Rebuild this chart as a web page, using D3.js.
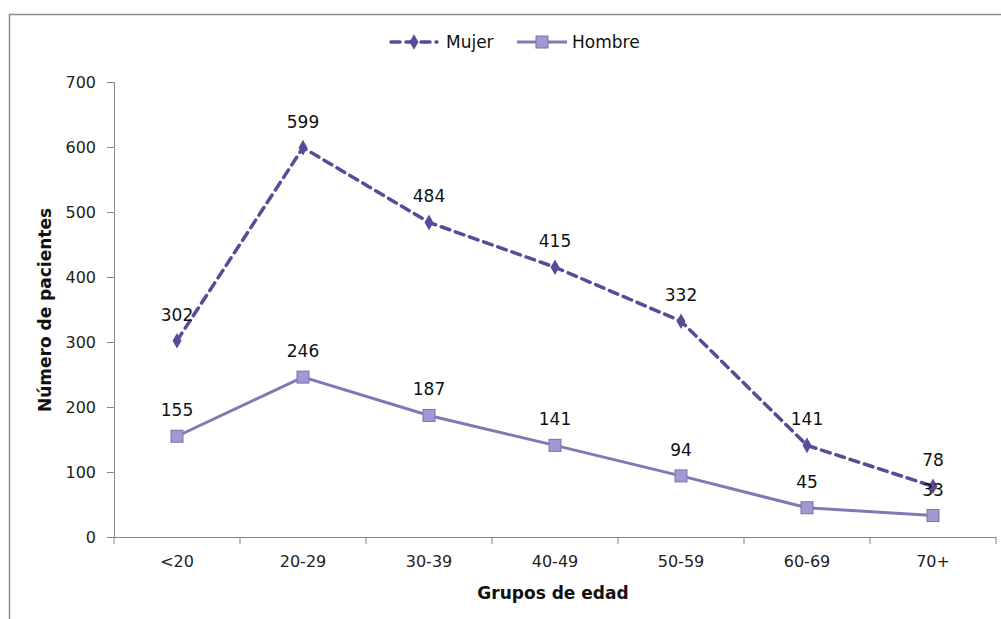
<!DOCTYPE html>
<html>
<head>
<meta charset="utf-8">
<script src="https://cdn.jsdelivr.net/npm/d3@7"></script>
<style>
  body { margin: 0; background: #fff; }
  text { font-family: "DejaVu Sans", Verdana, sans-serif; }
</style>
</head>
<body>
<div id="chart"></div>
<script>
// Data
const grupos = ["<20", "20-29", "30-39", "40-49", "50-59", "60-69", "70+"];
const mujer = [302, 599, 484, 415, 332, 141, 78];
const hombre = [155, 246, 187, 141, 94, 45, 33];
const yTicks = [0, 100, 200, 300, 400, 500, 600, 700];

const W = 1001, H = 619;
const margin = { top: 82, right: 5, bottom: 82, left: 114 };
const width = 996 - margin.left;
const height = 537 - margin.top;

const svg = d3.select("#chart").append("svg")
    .attr("width", W)
    .attr("height", H);

// outer frame
svg.append("rect")
    .attr("x", 9.5).attr("y", 14.5)
    .attr("width", 1000).attr("height", 620)
    .attr("fill", "none")
    .attr("stroke", "#8c8c8c")
    .attr("stroke-width", 1.5);

const g = svg.append("g")
    .attr("transform", `translate(${margin.left},${margin.top})`);

const x = d3.scaleBand()
    .domain(grupos)
    .range([0, width]);

const y = d3.scaleLinear()
    .domain([0, 700])
    .range([height, 0]);

const cx = d => x(d) + x.bandwidth() / 2;

// Y axis
const yAxis = g.append("g")
    .call(d3.axisLeft(y).tickValues(yTicks).tickSize(7).tickPadding(6));
yAxis.select(".domain").attr("stroke", "#868686");
yAxis.selectAll(".tick line").attr("stroke", "#868686");
yAxis.selectAll(".tick text")
    .attr("fill", "#222")
    .style("font-size", "16px")
    .attr("dx", "-5");

// X axis
const xAxis = g.append("g")
    .attr("transform", `translate(0,${height})`)
    .call(d3.axisBottom(x).tickSize(0).tickPadding(19));
xAxis.select(".domain").attr("stroke", "#868686");
xAxis.selectAll(".tick text")
    .attr("fill", "#222")
    .style("font-size", "16px");
// boundary ticks between groups
xAxis.selectAll(".sep")
    .data(d3.range(grupos.length + 1))
    .enter()
    .append("line")
    .attr("x1", i => i * x.bandwidth())
    .attr("x2", i => i * x.bandwidth())
    .attr("y1", 0)
    .attr("y2", 7)
    .attr("stroke", "#868686");

// Lines
const line = d3.line()
    .x((d, i) => cx(grupos[i]))
    .y(d => y(d));

g.append("path")
    .datum(hombre)
    .attr("fill", "none")
    .attr("stroke", "#8576b6")
    .attr("stroke-width", 3)
    .attr("d", line);

g.append("path")
    .datum(mujer)
    .attr("fill", "none")
    .attr("stroke", "#5a4b98")
    .attr("stroke-width", 3.5)
    .attr("stroke-dasharray", "9,6")
    .attr("stroke-linecap", "round")
    .attr("d", line);

// Markers
g.selectAll(".sq")
    .data(hombre)
    .enter()
    .append("rect")
    .attr("x", (d, i) => cx(grupos[i]) - 6)
    .attr("y", d => y(d) - 6)
    .attr("width", 12)
    .attr("height", 12)
    .attr("fill", "#a498d4")
    .attr("stroke", "#7e70b0")
    .attr("stroke-width", 1);

const diamond = d3.symbol().type(d3.symbolDiamond).size(70);
g.selectAll(".dm")
    .data(mujer)
    .enter()
    .append("path")
    .attr("d", diamond)
    .attr("transform", (d, i) => `translate(${cx(grupos[i])},${y(d)})`)
    .attr("fill", "#5a4b98");

// Data labels
g.selectAll(".lblM")
    .data(mujer)
    .enter()
    .append("text")
    .attr("x", (d, i) => cx(grupos[i]))
    .attr("y", d => y(d) - 20)
    .attr("text-anchor", "middle")
    .style("font-size", "17px")
    .attr("fill", "#111")
    .text(d => d);

g.selectAll(".lblH")
    .data(hombre)
    .enter()
    .append("text")
    .attr("x", (d, i) => cx(grupos[i]))
    .attr("y", d => y(d) - 20)
    .attr("text-anchor", "middle")
    .style("font-size", "17px")
    .attr("fill", "#111")
    .text(d => d);

// Axis titles
svg.append("text")
    .attr("transform", "rotate(-90)")
    .attr("x", -310)
    .attr("y", 51)
    .attr("text-anchor", "middle")
    .style("font-size", "17px")
    .style("font-weight", "bold")
    .attr("fill", "#111")
    .text("Número de pacientes");

svg.append("text")
    .attr("x", 553)
    .attr("y", 599)
    .attr("text-anchor", "middle")
    .style("font-size", "17px")
    .style("font-weight", "bold")
    .attr("fill", "#111")
    .text("Grupos de edad");

// Legend
const leg = svg.append("g");
leg.append("line")
    .attr("x1", 391).attr("x2", 437)
    .attr("y1", 42).attr("y2", 42)
    .attr("stroke", "#5a4b98")
    .attr("stroke-width", 3.5)
    .attr("stroke-dasharray", "9,6")
    .attr("stroke-linecap", "round");
leg.append("path")
    .attr("d", diamond)
    .attr("transform", "translate(414,42)")
    .attr("fill", "#5a4b98");
leg.append("text")
    .attr("x", 446).attr("y", 48)
    .style("font-size", "17px")
    .attr("fill", "#111")
    .text("Mujer");

leg.append("line")
    .attr("x1", 517).attr("x2", 567)
    .attr("y1", 42).attr("y2", 42)
    .attr("stroke", "#8576b6")
    .attr("stroke-width", 3);
leg.append("rect")
    .attr("x", 536).attr("y", 36)
    .attr("width", 12).attr("height", 12)
    .attr("fill", "#a498d4")
    .attr("stroke", "#7e70b0");
leg.append("text")
    .attr("x", 572).attr("y", 48)
    .style("font-size", "17px")
    .attr("fill", "#111")
    .text("Hombre");
</script>
</body>
</html>
